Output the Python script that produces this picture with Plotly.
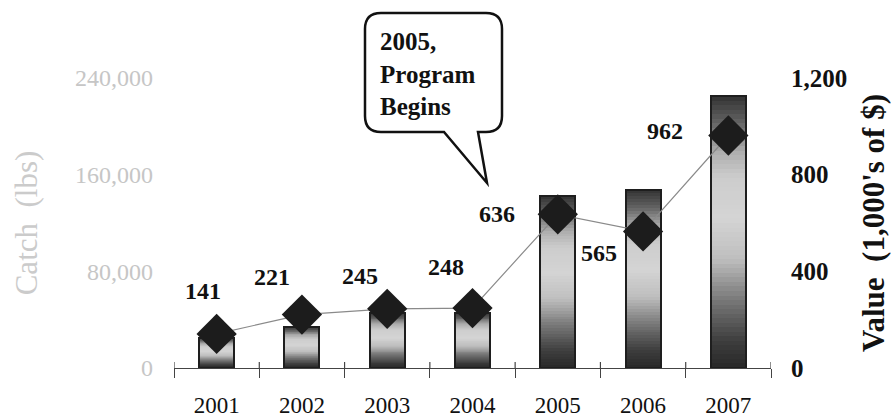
import plotly.graph_objects as go

# ---- data ----
years = ["2001", "2002", "2003", "2004", "2005", "2006", "2007"]
catch_lbs = [25000, 34000, 45500, 45500, 142000, 147000, 225000]
value_k = [141, 221, 245, 248, 636, 565, 962]

left_ticks = [0, 80000, 160000, 240000]
right_ticks = [0, 400, 800, 1200]

# label offsets (pixels) for the value labels
label_dx = [-14, -30, -27, -27, -61, -44, -63]
label_dy = [43, 38, 33, 41, 0, -22, 5]

SERIF = "Liberation Serif, Times New Roman, serif"

# plot area in pixels
L, R, T, B = 174, 771, 78, 368
W, H = 891, 418

fig = go.Figure()

# vertical shading of each bar: (fraction of height, grey level)
stops = [(0.00, 40), (0.10, 62), (0.25, 120), (0.40, 190), (0.55, 212),
         (0.70, 205), (0.80, 172), (0.90, 100), (1.00, 50)]


def grey_at(f):
    for (f0, g0), (f1, g1) in zip(stops[:-1], stops[1:]):
        if f0 <= f <= f1:
            t = (f - f0) / (f1 - f0)
            return g0 + (g1 - g0) * t
    return stops[-1][1]


# shading bands: tallest first, each shorter band painted over the lower part
NB = 60
BAR_W = 0.41
for i in range(NB - 1, -1, -1):
    f0, f1 = i / NB, (i + 1) / NB
    g = int(round(grey_at((f0 + f1) / 2)))
    fig.add_trace(go.Bar(
        x=years,
        y=[c * f1 for c in catch_lbs],
        width=BAR_W,
        marker=dict(color=f"rgb({g},{g},{g})", line=dict(width=0)),
        hoverinfo="skip", showlegend=False, yaxis="y",
    ))

# bar outlines (carry the hover text)
fig.add_trace(go.Bar(
    x=years, y=catch_lbs, width=BAR_W, name="Catch (lbs)",
    marker=dict(color="rgba(0,0,0,0)", line=dict(color="#1e1e1e", width=2)),
    showlegend=False, yaxis="y",
))

# value line with diamonds
fig.add_trace(go.Scatter(
    x=years, y=value_k, mode="lines+markers", name="Value (1,000's of $)",
    line=dict(color="#8a8a8a", width=1.2),
    marker=dict(symbol="diamond", size=31, color="#1c1c1c", line=dict(width=0)),
    showlegend=False, yaxis="y2",
))

# value labels (x given as category index so "2001" is not read as a number)
for idx, (v, dx, dy) in enumerate(zip(value_k, label_dx, label_dy)):
    fig.add_annotation(
        x=idx, y=v, xref="x", yref="y2", text=f"<b>{v}</b>", showarrow=False,
        xshift=dx, yshift=dy,
        font=dict(family=SERIF, size=24, color="#111111"),
    )

# short tick stubs above the category axis at each category boundary
for k in range(len(years) + 1):
    fig.add_shape(type="line", xref="x", yref="paper",
                  x0=k - 0.5, x1=k - 0.5, y0=0, y1=6 / (B - T),
                  line=dict(color="#444444", width=1.2))


# speech-bubble callout (pixel -> paper coordinates)
def px(xp):
    return (xp - L) / (R - L)


def py(yp):
    return (B - yp) / (B - T)


bx0, bx1, by0, by1, r = 365, 502, 13, 132, 16
pts = [
    ("M", bx0 + r, by0), ("L", bx1 - r, by0), ("Q", bx1, by0, bx1, by0 + r),
    ("L", bx1, by1 - r), ("Q", bx1, by1, bx1 - r, by1),
    ("L", 478, by1), ("L", 487, 183), ("L", 444, by1),
    ("L", bx0 + r, by1), ("Q", bx0, by1, bx0, by1 - r),
    ("L", bx0, by0 + r), ("Q", bx0, by0, bx0 + r, by0),
]
path = ""
for p in pts:
    cmd, coords = p[0], p[1:]
    xy = []
    for k in range(0, len(coords), 2):
        xy.append(f"{px(coords[k]):.5f},{py(coords[k + 1]):.5f}")
    path += cmd + " " + " ".join(xy) + " "
path += "Z"
fig.add_shape(type="path", path=path, xref="paper", yref="paper",
              line=dict(color="#111111", width=2.5), fillcolor="white", layer="above")
fig.add_annotation(
    x=px(378), y=py(74), xref="paper", yref="paper", xanchor="left", yanchor="middle",
    align="left", showarrow=False, text="<b>2005,<br>Program<br>Begins</b>",
    font=dict(family=SERIF, size=25, color="#111111"),
)

fig.update_layout(
    width=W, height=H,
    margin=dict(l=L, r=W - R, t=T, b=H - B, autoexpand=False),
    paper_bgcolor="white", plot_bgcolor="white",
    barmode="overlay", bargap=0,
    font=dict(family=SERIF, color="#111111"),
    xaxis=dict(
        type="category", categoryorder="array", categoryarray=years,
        range=[-0.5, 6.5], tickson="boundaries", ticks="outside", ticklen=9,
        tickcolor="#444444", tickwidth=1.2, showline=True, linecolor="#444444",
        linewidth=1.3, showgrid=False, zeroline=False,
        tickfont=dict(family=SERIF, size=23, color="#111111"),
        ticklabelstandoff=16,
    ),
    yaxis=dict(
        range=[0, 240000], tickvals=left_ticks, tickformat=",",
        showgrid=False, zeroline=False, showline=False, ticks="",
        tickfont=dict(family=SERIF, size=24, color="#c6c6c6"),
        ticklabelstandoff=20,
        title=dict(text="Catch  (lbs)", standoff=28,
                   font=dict(family=SERIF, size=31, color="#cbcbcb")),
    ),
    yaxis2=dict(
        range=[0, 1200], tickvals=right_ticks, tickformat=",",
        overlaying="y", side="right", anchor="x",
        showgrid=False, zeroline=False, showline=False, ticks="",
        tickfont=dict(family=SERIF, size=25, color="#111111", weight="bold"),
        ticklabelstandoff=19,
        title=dict(text="Value  (1,000's of $)", standoff=16,
                   font=dict(family=SERIF, size=31, color="#111111", weight="bold")),
    ),
)

fig.write_html("out.html")
